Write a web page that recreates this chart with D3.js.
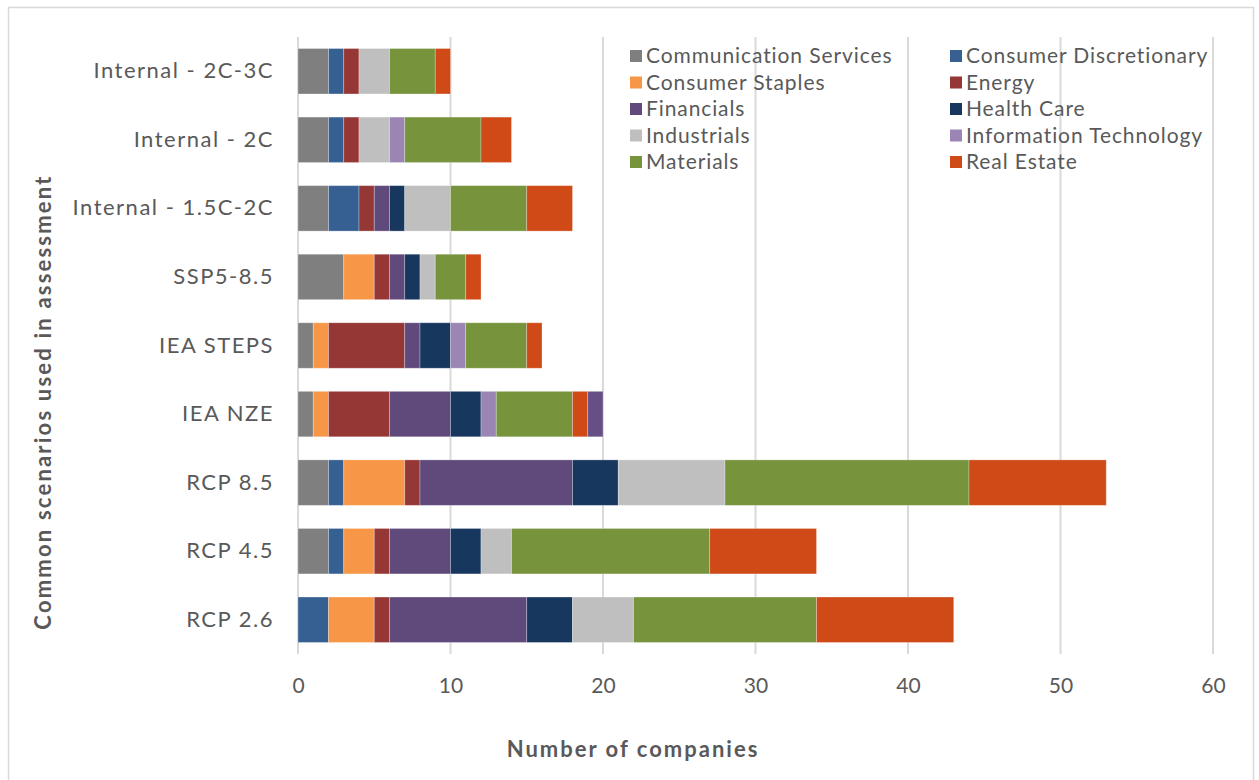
<!DOCTYPE html>
<html>
<head>
<meta charset="utf-8">
<script src="https://cdn.jsdelivr.net/npm/d3@7"></script>
<style>
  body { margin: 0; background: #fff; }
  text { font-family: Lato, "DejaVu Sans", sans-serif; }
</style>
</head>
<body>
<svg id="chart" width="1259" height="780"></svg>
<script>
var scenarios = ["Internal - 2C-3C", "Internal - 2C", "Internal - 1.5C-2C", "SSP5-8.5",
                 "IEA STEPS", "IEA NZE", "RCP 8.5", "RCP 4.5", "RCP 2.6"];

var sectors = ["Communication Services", "Consumer Discretionary", "Consumer Staples", "Energy",
               "Financials", "Health Care", "Industrials", "Information Technology",
               "Materials", "Real Estate", "Other"];

var colors = ["#7f7f7f", "#376092", "#f79646", "#953735", "#604a7b", "#17375e",
              "#bfbfbf", "#9b85b5", "#77933c", "#d04a17", "#664f85"];

// counts per sector, in scenario order
var communication = [2, 2, 2, 3, 1, 1, 2, 2, 0];
var discretionary = [1, 1, 2, 0, 0, 0, 1, 1, 2];
var staples       = [0, 0, 0, 2, 1, 1, 4, 2, 3];
var energy        = [1, 1, 1, 1, 5, 4, 1, 1, 1];
var financials    = [0, 0, 1, 1, 1, 4, 10, 4, 9];
var healthCare    = [0, 0, 1, 1, 2, 2, 3, 2, 3];
var industrials   = [2, 2, 3, 1, 0, 0, 7, 2, 4];
var infoTech      = [0, 1, 0, 0, 1, 1, 0, 0, 0];
var materials     = [3, 5, 5, 2, 4, 5, 16, 13, 12];
var realEstate    = [1, 2, 3, 1, 1, 1, 9, 7, 9];
var other         = [0, 0, 0, 0, 0, 1, 0, 0, 0];

var xTicks = [0, 10, 20, 30, 40, 50, 60];

var series = [communication, discretionary, staples, energy, financials, healthCare,
              industrials, infoTech, materials, realEstate, other];

var rows = scenarios.map(function(s, i) {
  var r = {scenario: s};
  sectors.forEach(function(k, j) { r[k] = series[j][i]; });
  return r;
});

var svg = d3.select("#chart");

// outer chart border
svg.append("rect")
    .attr("x", 8.5).attr("y", 7.5)
    .attr("width", 1245).attr("height", 790)
    .attr("fill", "none").attr("stroke", "#d9d9d9").attr("stroke-width", 1.5);

var plotLeft = 298, plotRight = 1213, plotTop = 37, plotBottom = 654;

var x = d3.scaleLinear().domain([0, 60]).range([plotLeft, plotRight]);
var y = d3.scaleBand().domain(scenarios).range([plotTop, plotBottom])
    .paddingInner(0.337).paddingOuter(0.168);
var z = d3.scaleOrdinal().domain(sectors).range(colors);

// gridlines
svg.append("g").selectAll("line")
  .data(xTicks)
  .enter().append("line")
    .attr("x1", function(d) { return x(d); })
    .attr("x2", function(d) { return x(d); })
    .attr("y1", plotTop).attr("y2", plotBottom)
    .attr("stroke", "#d9d9d9").attr("stroke-width", 2);

var stack = d3.stack().keys(sectors);

svg.append("g").selectAll("g")
  .data(stack(rows))
  .enter().append("g")
    .attr("fill", function(d) { return z(d.key); })
  .selectAll("rect")
  .data(function(d) { return d.filter(function(p) { return p[1] > p[0]; }); })
  .enter().append("rect")
    .attr("x", function(d) { return x(d[0]); })
    .attr("y", function(d) { return y(d.data.scenario); })
    .attr("width", function(d) { return x(d[1]) - x(d[0]); })
    .attr("height", y.bandwidth())
    .attr("stroke", "#ffffff").attr("stroke-opacity", 0.35).attr("stroke-width", 0.8);

// x axis tick labels
var xAxis = svg.append("g")
    .attr("transform", "translate(0," + plotBottom + ")")
    .call(d3.axisBottom(x).tickValues(xTicks).tickSize(0).tickPadding(24));
xAxis.select(".domain").remove();
xAxis.selectAll("text")
    .attr("fill", "#595959").style("font-size", "21px")
    .style("font-family", "Lato, sans-serif");

// y axis category labels
var yAxis = svg.append("g")
    .attr("transform", "translate(" + plotLeft + ",0)")
    .call(d3.axisLeft(y).tickSize(0).tickPadding(24));
yAxis.select(".domain").remove();
yAxis.selectAll("text")
    .attr("fill", "#595959").style("font-size", "22px")
    .style("letter-spacing", "1.5px")
    .style("font-family", "Lato, sans-serif");

// axis titles
svg.append("text")
    .attr("x", 633).attr("y", 757)
    .attr("text-anchor", "middle")
    .attr("fill", "#595959")
    .style("font-size", "22px").style("font-weight", "bold")
    .style("letter-spacing", "2px")
    .text("Number of companies");

svg.append("text")
    .attr("transform", "translate(51,402) rotate(-90)")
    .attr("text-anchor", "middle")
    .attr("fill", "#595959")
    .style("font-size", "22px").style("font-weight", "bold")
    .style("letter-spacing", "2.2px")
    .text("Common scenarios used in assessment");

// legend, two columns
var legendKeys = sectors.slice(0, 10);
var legend = svg.append("g").selectAll("g")
  .data(legendKeys)
  .enter().append("g")
    .attr("transform", function(d, i) {
      return "translate(" + (i % 2 ? 950 : 630) + "," + (56 + Math.floor(i / 2) * 26.5) + ")";
    });

legend.append("rect")
    .attr("x", 0).attr("y", -6)
    .attr("width", 12).attr("height", 12)
    .attr("fill", function(d) { return z(d); });

legend.append("text")
    .attr("x", 16).attr("dy", "0.35em")
    .attr("fill", "#595959")
    .style("font-size", "21px")
    .style("letter-spacing", "0.9px")
    .text(function(d) { return d; });
</script>
</body>
</html>
